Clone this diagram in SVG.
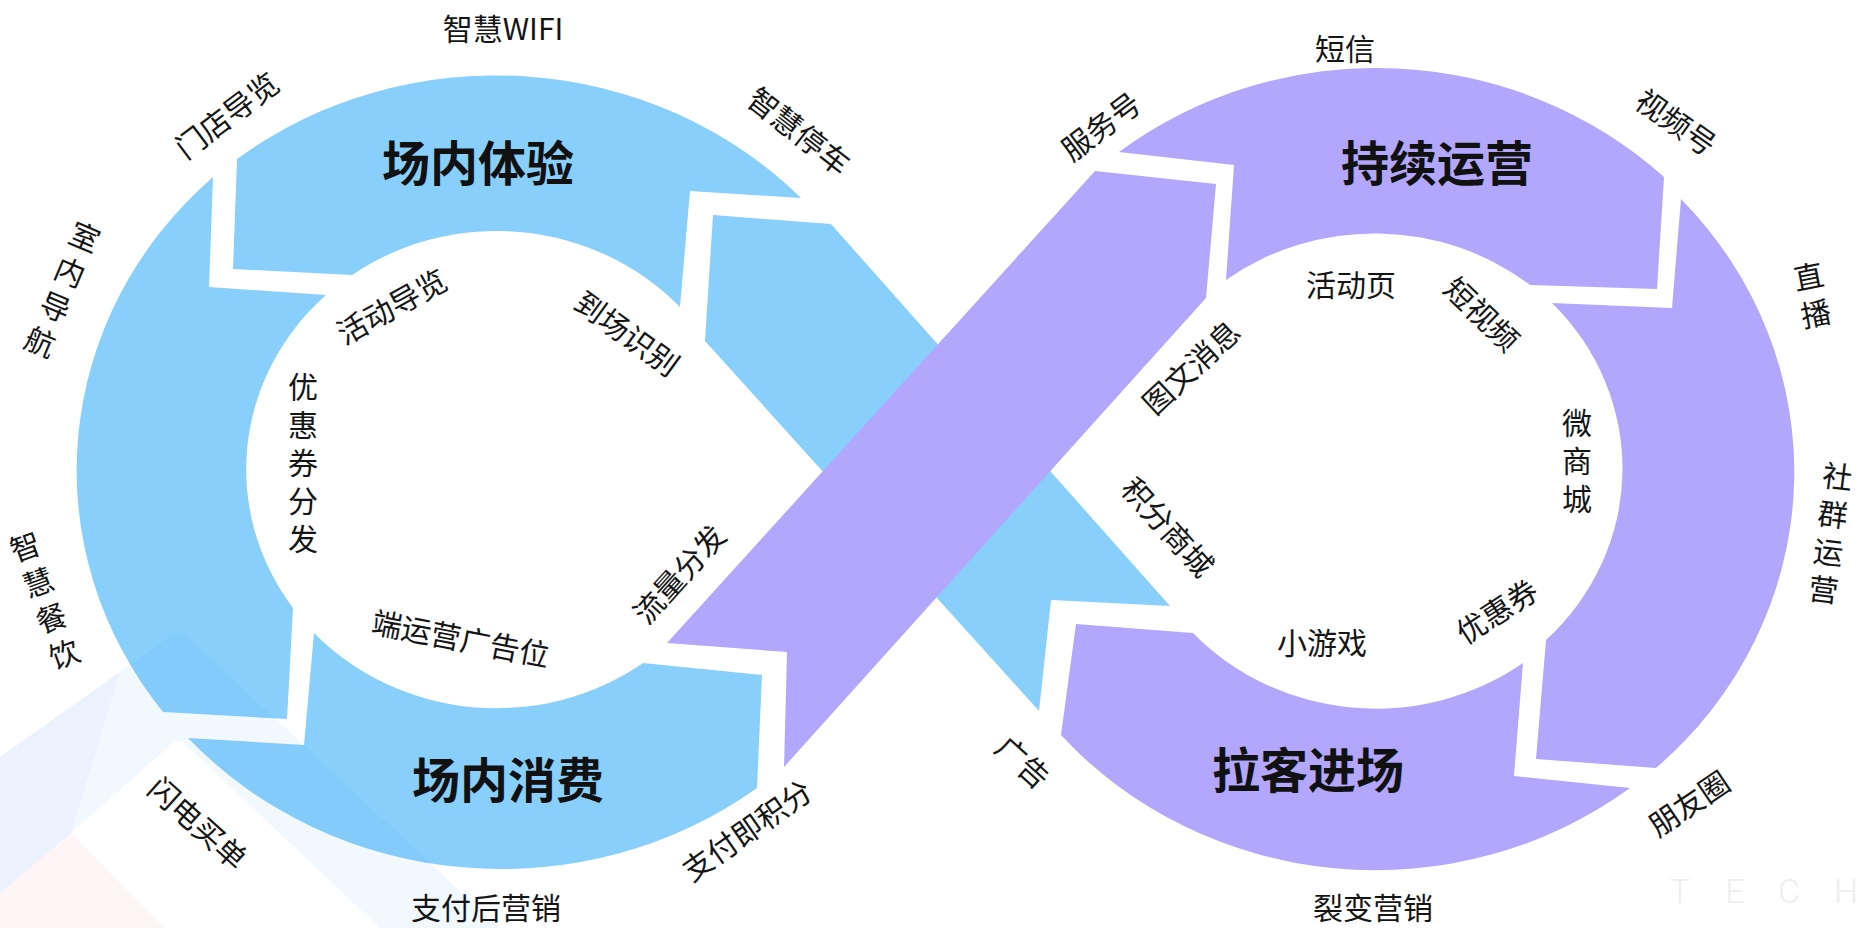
<svg xmlns="http://www.w3.org/2000/svg" width="1858" height="928" viewBox="0 0 1858 928">
<style>
.blue{fill:#88CFFC}
.purple{fill:#B2A7FD}
.lb{font-family:"Noto Sans CJK SC","Noto Sans",sans-serif;font-size:30px;fill:#151515;text-anchor:middle;dominant-baseline:central}
.vt{font-family:"Noto Sans CJK SC","Noto Sans",sans-serif;font-size:30px;fill:#151515;text-anchor:middle;dominant-baseline:central;writing-mode:vertical-rl;letter-spacing:8px}
.tt{font-family:"Noto Sans CJK SC","Noto Sans",sans-serif;font-size:48px;font-weight:bold;fill:#111;text-anchor:middle;dominant-baseline:central}
.deco-b{fill:#3D9BF0;fill-opacity:0.075}
.deco-p{fill:#A08CF0;fill-opacity:0.06}
.deco-r{fill:#F07C9B;fill-opacity:0.08}
</style>
<rect width="1858" height="928" fill="#ffffff"/>

<g id="connectors">
  <path id="band-blue" class="blue" d="M713,215 L831,224 L1170,606 L1051,600 L1039,711 L705,341 Z"/>
  <path id="band-purple" class="purple" d="M1095,171 L1216,184 L1206,298 L784,767 L787,652 L667,643 Z"/>
</g>

<g id="left-loop">
  <g id="seg-experience">
    <path class="blue" d="M237,159 A423,399 0 0,1 801,198 L690,191 L680,307 A250,238 0 0,0 352,275 L233,269 Z"/>
    <text class="tt" x="478" y="160">场内体验</text>
  </g>
  <g id="seg-left">
    <path class="blue" d="M213,177 L209,287 L326,295 A250,238 0 0,0 293,608 L287,719 L163,712 A423,399 0 0,1 213,177 Z"/>
  </g>
  <g id="seg-consume">
    <path class="blue" d="M188,738 L304,745 L314,633 A250,238 0 0,0 643,663 L762,675 L757,788 A423,399 0 0,1 188,738 Z"/>
    <text class="tt" x="508" y="777">场内消费</text>
  </g>
</g>

<g id="right-loop">
  <g id="seg-operate">
    <path class="purple" d="M1119,152 A419,399 0 0,1 1664,177 L1657,289 L1530,285 A250,238 0 0,0 1226,280 L1234,165 Z"/>
    <text class="tt" x="1437" y="160">持续运营</text>
  </g>
  <g id="seg-right">
    <path class="purple" d="M1681,199 L1672,308 L1552,303 A250,238 0 0,1 1546,640 L1536,759 L1656,768 A419,399 0 0,0 1681,199 Z"/>
  </g>
  <g id="seg-attract">
    <path class="purple" d="M1061,735 L1076,624 L1193,633 A250,238 0 0,0 1523,663 L1514,776 L1630,788 A419,399 0 0,1 1061,735 Z"/>
    <text class="tt" x="1308" y="767">拉客进场</text>
  </g>
</g>

<g id="decoration">
  <path class="deco-b" d="M0,757 L165,640 Q179,628 193,642 L500,928 L380,928 L186,745 Q179,738 172,744 L71,833 L0,893 Z"/>
  <path class="deco-p" d="M0,757 L120,672 L71,833 L0,893 Z"/>
  <path class="deco-r" d="M0,893 L71,833 L164,928 L0,928 Z"/>
</g>

<g id="labels-left">
  <text class="lb" x="503" y="27">智慧WIFI</text>
  <text class="lb" transform="translate(226,114) rotate(-37)">门店导览</text>
  <text class="lb" transform="translate(800,130) rotate(38)">智慧停车</text>
  <text class="vt" transform="translate(61,293) rotate(23)">室内导航</text>
  <text class="vt" transform="translate(46,604) rotate(-20)">智慧餐饮</text>
  <text class="lb" transform="translate(199,822) rotate(42)">闪电买单</text>
  <text class="lb" x="486" y="906">支付后营销</text>
  <text class="lb" transform="translate(746,829) rotate(-35)">支付即积分</text>
  <text class="lb" transform="translate(391,305) rotate(-29)">活动导览</text>
  <text class="lb" transform="translate(628,332) rotate(36)">到场识别</text>
  <text class="vt" x="303" y="467">优惠券分发</text>
  <text class="lb" transform="translate(461,637) rotate(11)">端运营广告位</text>
  <text class="lb" transform="translate(678,573) rotate(-48)">流量分发</text>
</g>

<g id="labels-right">
  <text class="lb" transform="translate(1100,125) rotate(-37)">服务号</text>
  <text class="lb" x="1345" y="47">短信</text>
  <text class="lb" transform="translate(1677,121) rotate(35)">视频号</text>
  <text class="vt" transform="translate(1813,299) rotate(-11)">直播</text>
  <text class="vt" transform="translate(1830,537) rotate(7)">社群运营</text>
  <text class="lb" transform="translate(1688,802) rotate(-34)">朋友圈</text>
  <text class="lb" x="1373" y="906">裂变营销</text>
  <text class="lb" transform="translate(1024,761) rotate(42)">广告</text>
  <text class="lb" x="1351" y="283">活动页</text>
  <text class="lb" transform="translate(1483,313) rotate(44)">短视频</text>
  <text class="lb" transform="translate(1190,366) rotate(-43)">图文消息</text>
  <text class="vt" x="1577" y="465">微商城</text>
  <text class="lb" transform="translate(1169,526) rotate(48)">积分商城</text>
  <text class="lb" x="1322" y="641">小游戏</text>
  <text class="lb" transform="translate(1496,610) rotate(-33)">优惠券</text>
</g>

<text id="watermark" font-family="Roboto, sans-serif" font-weight="300" font-size="34" fill="#eeeeee" text-anchor="middle" x="1680 1735 1789 1846" y="903">TECH</text>
</svg>
